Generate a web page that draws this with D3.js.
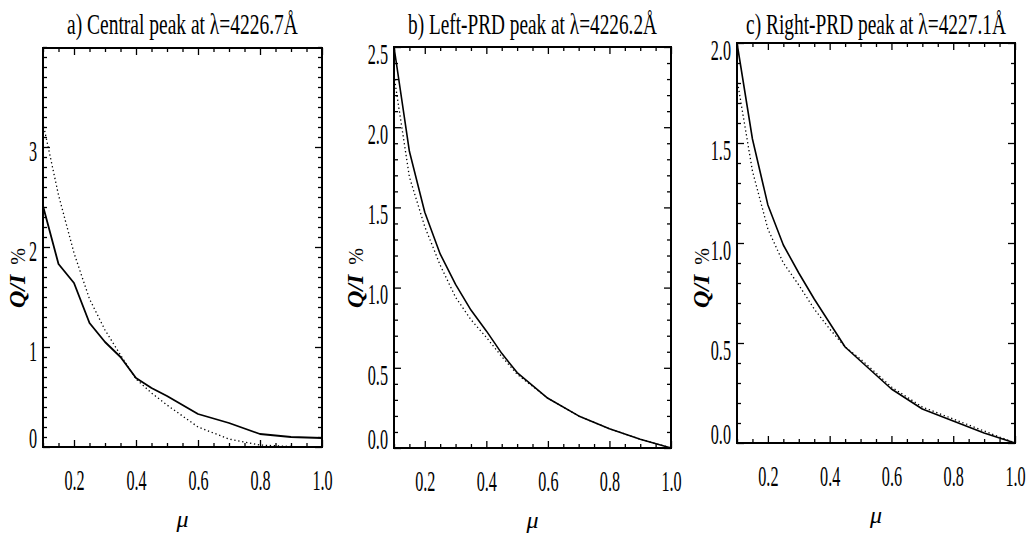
<!DOCTYPE html>
<html>
<head>
<meta charset="utf-8">
<script src="https://cdn.jsdelivr.net/npm/d3@7"></script>
<style>
  html, body { margin: 0; padding: 0; background: #fff; }
  svg { display: block; }
  text { font-family: "Liberation Serif", "DejaVu Serif", serif; fill: #000; }
</style>
</head>
<body>
<svg id="chart" width="1035" height="535"></svg>
<script>
// ---------------- data ----------------
const mu = [0.1, 0.15, 0.2, 0.25, 0.3, 0.35, 0.4, 0.45, 0.5, 0.6, 0.7, 0.8, 0.9, 1.0];

const centralSolid  = [2.41, 1.83, 1.64, 1.24, 1.05, 0.90, 0.69, 0.59, 0.51, 0.33, 0.24, 0.13, 0.10, 0.09];
const centralDotted = [3.24, 2.52, 1.94, 1.48, 1.17, 0.92, 0.68, 0.54, 0.42, 0.20, 0.08, 0.02, 0.005, 0.0];

const leftSolid  = [2.50, 1.85, 1.47, 1.21, 1.02, 0.86, 0.73, 0.59, 0.47, 0.31, 0.20, 0.12, 0.055, 0.0];
const leftDotted = [2.32, 1.69, 1.38, 1.14, 0.94, 0.80, 0.69, 0.57, 0.46, 0.31, 0.20, 0.12, 0.055, 0.0];

const rightSolid  = [2.00, 1.52, 1.19, 0.99, 0.85, 0.72, 0.60, 0.48, 0.41, 0.27, 0.17, 0.11, 0.05, 0.0];
const rightDotted = [1.82, 1.36, 1.07, 0.90, 0.79, 0.67, 0.57, 0.48, 0.42, 0.28, 0.18, 0.12, 0.06, 0.0];

const xTickLabels = [0.2, 0.4, 0.6, 0.8, 1.0];
const yTicksA = [0, 1, 2, 3];
const yTicksB = [0, 0.5, 1.0, 1.5, 2.0, 2.5];
const yTicksC = [0, 0.5, 1.0, 1.5, 2.0];

const titles = ["a) Central peak at \u03bb=4226.7\u00c5",
                "b) Left-PRD peak at \u03bb=4226.2\u00c5",
                "c) Right-PRD peak at \u03bb=4227.1\u00c5"];
const yDomains = [[0, 3.99], [0, 2.5], [0, 2.0]];

// ---------------- layout ----------------
const layout = [
  { left: 43,  right: 322,  top: 48, bottom: 447, titleW: 231, ytx: 18,  yFmt: d3.format("d"),  labOff: 3 },
  { left: 394, right: 671,  top: 47, bottom: 448, titleW: 249, ytx: 356, yFmt: d3.format(".1f"), labOff: 6 },
  { left: 737, right: 1015, top: 43, bottom: 443, titleW: 260, ytx: 702, yFmt: d3.format(".1f"), labOff: 6 }
];
const panels = [
  { solid: centralSolid, dotted: centralDotted, yTicks: yTicksA },
  { solid: leftSolid,    dotted: leftDotted,    yTicks: yTicksB },
  { solid: rightSolid,   dotted: rightDotted,   yTicks: yTicksC }
];

const svg = d3.select("#chart");
const SX = 0.54;       // horizontal squeeze of the narrow plotting font
const FS = 30;         // tick label font size
const MAJ = 7, MIN = 4;

function range(a, b, step) {
  const out = [];
  const n = Math.round((b - a) / step);
  for (let i = 0; i <= n; i++) out.push(+(a + i * step).toFixed(4));
  return out;
}

panels.forEach((p, i) => {
  const L = layout[i];
  const w = L.right - L.left, h = L.bottom - L.top;
  const x = d3.scaleLinear().domain([0.1, 1.0]).range([0, w]);
  const y = d3.scaleLinear().domain(yDomains[i]).range([h, 0]);
  const g = svg.append("g").attr("transform", `translate(${L.left},${L.top})`);

  const xMinor = range(0.1, 1.0, 0.05).filter(v => !xTickLabels.some(t => Math.abs(t - v) < 1e-6));
  const yAll = range(0, yDomains[i][1], 0.1);
  const yMinor = yAll.filter(v => !p.yTicks.some(t => Math.abs(t - v) < 1e-6));

  const styleAxis = sel => {
    sel.select(".domain").remove();
    sel.selectAll("line").attr("stroke", "#000").attr("stroke-width", 1.3);
  };

  // bottom axis with labels
  const gb = g.append("g").attr("transform", `translate(0,${h})`)
    .call(d3.axisBottom(x).tickValues(xTickLabels).tickSizeInner(-MAJ).tickSizeOuter(0).tickFormat(d3.format(".1f")));
  styleAxis(gb);
  gb.selectAll("text").attr("y", 33).attr("dy", "0.34em")
    .attr("font-size", FS).attr("transform", `scale(${SX},1)`);
  g.append("g").attr("transform", `translate(0,${h})`)
    .call(d3.axisBottom(x).tickValues(xMinor).tickSizeInner(-MIN).tickSizeOuter(0).tickFormat(""))
    .call(styleAxis);
  // top axis (ticks only)
  g.append("g").call(d3.axisTop(x).tickValues(xTickLabels).tickSizeInner(-MAJ).tickSizeOuter(0).tickFormat("")).call(styleAxis);
  g.append("g").call(d3.axisTop(x).tickValues(xMinor).tickSizeInner(-MIN).tickSizeOuter(0).tickFormat("")).call(styleAxis);

  // left axis with labels
  const gl = g.append("g")
    .call(d3.axisLeft(y).tickValues(p.yTicks).tickSizeInner(-MAJ).tickSizeOuter(0).tickFormat(L.yFmt));
  styleAxis(gl);
  gl.selectAll("text").attr("x", -6 / SX).attr("text-anchor", "end")
    .attr("font-size", FS).attr("transform", `scale(${SX},1)`)
    .attr("dy", "0.34em")
    .attr("y", d => d === 0 ? -10 : L.labOff);
  g.append("g").call(d3.axisLeft(y).tickValues(yMinor).tickSizeInner(-MIN).tickSizeOuter(0).tickFormat("")).call(styleAxis);
  // right axis (ticks only)
  g.append("g").attr("transform", `translate(${w},0)`)
    .call(d3.axisRight(y).tickValues(p.yTicks).tickSizeInner(-MAJ).tickSizeOuter(0).tickFormat("")).call(styleAxis);
  g.append("g").attr("transform", `translate(${w},0)`)
    .call(d3.axisRight(y).tickValues(yMinor).tickSizeInner(-MIN).tickSizeOuter(0).tickFormat("")).call(styleAxis);

  // frame
  g.append("rect").attr("x", 0).attr("y", 0).attr("width", w).attr("height", h)
    .attr("fill", "none").attr("stroke", "#000").attr("stroke-width", 2);

  // curves
  const line = d3.line().x((d, k) => x(mu[k])).y(d => y(d));
  g.append("path").datum(p.dotted).attr("d", line)
    .attr("fill", "none").attr("stroke", "#000").attr("stroke-width", 1.3)
    .attr("stroke-dasharray", "1.3,2.7");
  g.append("path").datum(p.solid).attr("d", line)
    .attr("fill", "none").attr("stroke", "#000").attr("stroke-width", i === 0 ? 1.8 : 1.6)
    .attr("stroke-linejoin", "round");

  // title (squeezed horizontally to the measured width)
  const cx = (L.left + L.right) / 2;
  const tg = svg.append("g");
  const tt = tg.append("text").attr("x", 0).attr("y", 0)
    .attr("text-anchor", "middle").attr("font-size", 30)
    .text(titles[i]);
  const nat = tt.node().getComputedTextLength();
  tg.attr("transform", `translate(${cx},34) scale(${L.titleW / nat},1)`);

  // x title
  svg.append("text").attr("x", cx).attr("y", L.bottom + 80)
    .attr("text-anchor", "middle").attr("font-size", 24).attr("font-style", "italic")
    .text("\u03bc");

  // y title
  const yt = svg.append("text")
    .attr("transform", `translate(${L.ytx + 7},278) rotate(-90)`)
    .attr("text-anchor", "middle");
  yt.append("tspan").attr("font-size", 24).attr("font-style", "italic").attr("font-weight", "bold").text("Q/I");
  yt.append("tspan").attr("font-size", 20).attr("dx", 10).text("%");
});
</script>
</body>
</html>
